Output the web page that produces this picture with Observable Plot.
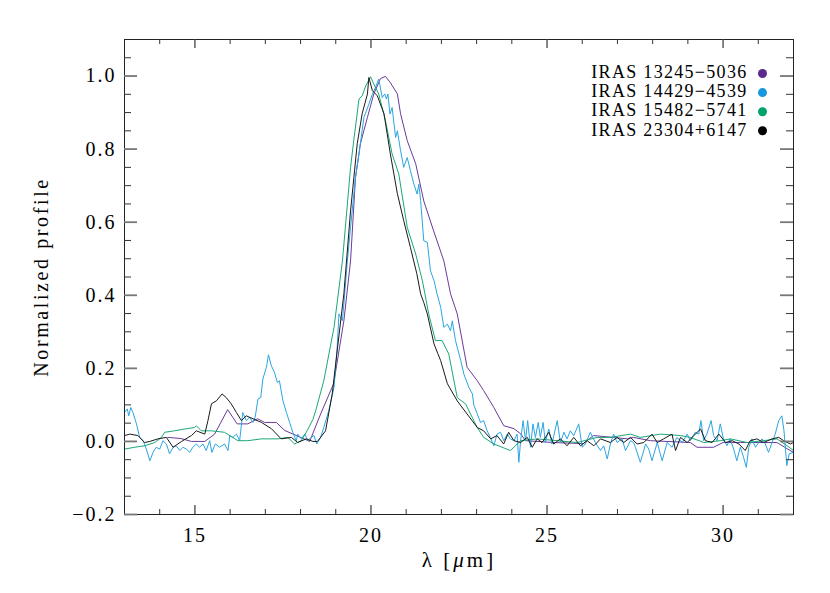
<!DOCTYPE html>
<html>
<head>
<meta charset="utf-8">
<script src="https://cdn.jsdelivr.net/npm/d3@7"></script>
<script src="https://cdn.jsdelivr.net/npm/@observablehq/plot@0.6"></script>
<style>
  html, body { margin: 0; padding: 0; background: #fff; }
  #chart { width: 830px; height: 593px; }
</style>
</head>
<body>
<div id="chart"></div>
<script>
// ---- Data ----
const seriesNames = ["IRAS 13245\u22125036", "IRAS 14429\u22124539", "IRAS 15482\u22125741", "IRAS 23304+6147"];
const seriesColors = ["#5b2a8c", "#1598dc", "#00a36c", "#000000"];
const lineColors = ["#6a3a9a", "#2aa5e2", "#1aa878", "#1a1a1a"];

const lam13245 = [14.23,14.6,14.9,15.28,15.56,15.93,16.2,16.5,16.78,16.98,17.31,17.55,18.1,18.26,18.4,18.57,18.94,19.23,19.42,19.56,19.7,19.9,20.08,20.27,20.41,20.55,20.75,20.84,21.03,21.27,21.5,21.78,22.07,22.26,22.45,22.73,23.02,23.2,23.49,23.77,24.06,24.25,24.39,25.18,26.03,26.32,26.88,27.28,27.45,27.94,29.07,29.26,29.73,30.0,30.49,31.14,31.53,31.82,32.0];
const val13245 = [0.011,0.008,0.0,0.0,0.02,0.087,0.048,0.048,0.062,0.052,0.052,0.03,0.007,0.0,0.034,0.075,0.158,0.33,0.494,0.722,0.815,0.887,0.951,0.993,0.999,0.982,0.951,0.897,0.823,0.76,0.658,0.576,0.494,0.404,0.349,0.203,0.166,0.139,0.093,0.043,0.035,0.021,0.002,-0.003,-0.006,0.016,0.011,0.007,0.011,0.002,-0.003,-0.016,-0.016,-0.003,-0.003,-0.003,-0.003,-0.02,-0.03];

const lam14429 = [13.0,13.08,13.12,13.18,13.24,13.34,13.43,13.53,13.62,13.72,13.81,13.9,14.0,14.09,14.19,14.28,14.38,14.47,14.57,14.66,14.76,14.85,14.94,15.04,15.13,15.23,15.32,15.42,15.48,15.58,15.7,15.84,15.94,15.99,16.08,16.18,16.27,16.36,16.46,16.55,16.65,16.71,16.79,16.87,16.93,17.03,17.09,17.17,17.26,17.34,17.4,17.5,17.6,17.69,17.78,17.88,17.92,18.02,18.12,18.21,18.3,18.38,18.46,18.57,18.66,18.8,18.95,19.04,19.09,19.19,19.33,19.42,19.56,19.66,19.8,19.94,20.04,20.13,20.22,20.32,20.39,20.44,20.48,20.54,20.6,20.7,20.75,20.84,20.93,21.03,21.12,21.22,21.31,21.36,21.41,21.5,21.6,21.69,21.79,21.88,21.98,22.07,22.17,22.26,22.31,22.4,22.55,22.64,22.78,22.88,22.92,23.02,23.11,23.2,23.3,23.39,23.49,23.58,23.68,23.77,23.87,23.96,24.06,24.15,24.2,24.25,24.32,24.39,24.45,24.53,24.6,24.67,24.75,24.81,24.89,24.95,25.05,25.14,25.29,25.38,25.48,25.57,25.66,25.76,25.9,26.0,26.09,26.23,26.37,26.52,26.61,26.71,26.8,26.89,26.99,27.13,27.23,27.37,27.46,27.51,27.65,27.8,27.89,27.98,28.13,28.27,28.41,28.55,28.69,28.84,28.98,29.07,29.21,29.31,29.37,29.45,29.54,29.66,29.73,29.83,29.92,30.01,30.11,30.2,30.3,30.39,30.49,30.58,30.66,30.73,30.82,30.92,31.01,31.11,31.2,31.29,31.39,31.48,31.58,31.67,31.73,31.81,31.88,32.0];
const val14429 = [0.079,0.089,0.07,0.093,0.079,0.048,0.011,0.002,-0.021,-0.053,-0.03,-0.016,-0.021,0.002,-0.007,-0.034,-0.016,-0.012,-0.025,-0.016,-0.021,-0.03,-0.016,-0.007,-0.016,-0.007,-0.025,0.002,-0.03,-0.007,-0.016,-0.007,-0.025,0.016,0.011,0.02,0.002,0.079,0.057,0.066,0.052,0.066,0.116,0.12,0.171,0.203,0.237,0.207,0.189,0.161,0.166,0.111,0.079,0.052,0.025,0.002,0.02,0.007,0.02,0.002,0.011,0.016,-0.007,0.011,0.038,0.084,0.148,0.257,0.349,0.33,0.494,0.586,0.722,0.787,0.887,0.923,0.951,0.969,0.992,0.941,0.951,0.937,0.951,0.896,0.914,0.832,0.85,0.796,0.75,0.777,0.741,0.704,0.677,0.704,0.659,0.549,0.545,0.467,0.44,0.403,0.367,0.312,0.321,0.303,0.33,0.276,0.221,0.184,0.148,0.13,0.1,0.075,0.052,0.057,0.029,0.011,-0.012,0.02,0.025,0.002,0.02,0.007,0.002,0.02,-0.057,0.002,0.057,0.002,0.057,-0.016,0.048,0.011,0.052,0.011,0.052,-0.003,0.034,-0.007,0.057,-0.003,0.025,0.007,0.029,0.016,0.048,-0.016,-0.007,0.025,-0.003,-0.025,-0.012,-0.048,-0.007,0.02,-0.003,0.007,-0.025,0.002,-0.003,-0.016,-0.057,-0.007,-0.021,-0.053,-0.003,-0.053,-0.003,-0.016,0.011,-0.003,0.02,0.002,0.025,0.02,0.057,0.002,0.02,0.057,0.016,0.002,0.048,0.007,-0.012,0.007,-0.021,-0.053,-0.016,-0.043,-0.071,-0.016,0.007,-0.016,-0.003,0.007,-0.007,-0.03,-0.003,0.02,0.057,0.07,0.029,-0.066,-0.034,-0.03];

const lam15482 = [13.0,13.29,13.57,13.86,14.05,14.14,14.42,14.71,14.99,15.04,15.18,15.47,15.84,16.22,16.5,16.89,17.36,17.64,17.83,18.02,18.19,18.35,18.43,18.66,18.95,19.19,19.42,19.51,19.66,19.75,19.85,19.99,20.08,20.22,20.41,20.6,20.79,21.03,21.27,21.46,21.64,21.83,22.02,22.21,22.45,22.69,22.92,23.02,23.2,23.49,23.96,24.25,24.72,25.29,25.86,26.42,26.8,27.37,27.65,28.22,28.79,29.07,29.45,29.92,30.21,30.68,31.15,31.53,31.82,32.0];
const val15482 = [-0.021,-0.016,-0.012,-0.003,0.011,0.025,0.029,0.034,0.038,0.043,0.029,0.029,0.025,0.002,0.002,0.007,0.007,0.011,-0.007,0.002,0.03,0.06,0.084,0.166,0.312,0.494,0.75,0.823,0.937,0.946,0.973,0.998,0.978,0.951,0.878,0.787,0.732,0.586,0.513,0.44,0.349,0.276,0.276,0.239,0.12,0.102,0.057,0.038,0.011,-0.007,-0.025,0.002,0.007,0.002,-0.003,0.011,0.011,0.02,0.011,0.02,0.016,0.011,-0.003,0.002,0.007,-0.003,0.002,0.007,-0.012,-0.025];

const lam23304 = [13.0,13.15,13.38,13.57,13.72,13.95,14.19,14.38,14.62,14.9,15.04,15.28,15.37,15.47,15.61,15.77,15.89,16.03,16.18,16.32,16.46,16.65,16.89,17.17,17.45,17.74,17.92,18.16,18.35,18.48,18.71,18.9,19.04,19.23,19.42,19.61,19.75,19.9,19.94,20.04,20.18,20.37,20.55,20.75,20.93,21.12,21.3,21.41,21.5,21.6,21.79,21.9,21.98,22.17,22.45,22.73,23.02,23.2,23.4,23.58,23.77,23.91,24.06,24.25,24.44,24.58,24.72,24.86,25.05,25.19,25.38,25.57,25.76,25.95,26.14,26.33,26.52,26.8,26.99,27.18,27.37,27.56,27.75,27.98,28.13,28.31,28.55,28.65,28.79,28.98,29.17,29.36,29.5,29.69,29.88,30.07,30.26,30.45,30.63,30.77,30.96,31.15,31.39,31.58,31.72,31.91,32.0];
const val23304 = [0.016,0.02,0.016,-0.003,0.0,0.007,0.011,-0.016,0.0,0.016,0.029,0.02,0.057,0.103,0.111,0.13,0.12,0.103,0.079,0.057,0.07,0.062,0.052,0.035,0.007,0.011,-0.003,0.007,0.0,0.0,0.029,0.13,0.248,0.404,0.631,0.815,0.897,0.951,0.996,0.96,0.946,0.897,0.787,0.678,0.604,0.531,0.46,0.404,0.38,0.349,0.267,0.24,0.221,0.158,0.111,0.075,0.038,0.029,0.007,0.016,-0.007,0.025,0.002,-0.003,0.011,-0.016,0.007,-0.003,0.025,-0.007,0.007,-0.012,0.011,-0.012,0.002,-0.012,0.007,-0.003,0.011,-0.003,0.011,-0.007,-0.003,0.02,-0.003,0.007,0.02,-0.025,0.011,-0.003,0.016,0.034,0.002,-0.003,0.02,-0.003,0.002,-0.007,-0.025,0.002,0.007,-0.003,0.007,0.011,0.002,-0.007,-0.003];

const xMajor = [15, 20, 25, 30];
const xMinor = [14, 16, 17, 18, 19, 21, 22, 23, 24, 26, 27, 28, 29, 31];
const yMajor = [-0.2, 0.0, 0.2, 0.4, 0.6, 0.8, 1.0];
const yMinor = [-0.15, -0.1, -0.05, 0.05, 0.1, 0.15, 0.25, 0.3, 0.35, 0.45, 0.5, 0.55, 0.65, 0.7, 0.75, 0.85, 0.9, 0.95, 1.05];
const yLabel = "Normalized profile";
const xLabel = "\u03bb [\u03bcm]";

// ---- Build tables ----
const lamArrays = [lam13245, lam14429, lam15482, lam23304];
const valArrays = [val13245, val14429, val15482, val23304];
const tables = lamArrays.map((lams, s) => lams.map((l, i) => ({lam: l, val: valArrays[s][i], name: seriesNames[s]})));

// ---- Layout ----
const W = 830, H = 593;
const mTop = 39, mBottom = 79, mLeft = 124, mRight = 37;
const plotH = H - mTop - mBottom;
const plotW = W - mLeft - mRight;
const font = "'Liberation Serif', 'DejaVu Serif', serif";

const tickMarks = [
  Plot.tickX(xMajor, {x: d => d, insetTop: plotH - 9, stroke: "#444", strokeWidth: 1.3}),
  Plot.tickX(xMajor, {x: d => d, insetBottom: plotH - 9, stroke: "#444", strokeWidth: 1.3}),
  Plot.tickX(xMinor, {x: d => d, insetTop: plotH - 5, stroke: "#333"}),
  Plot.tickX(xMinor, {x: d => d, insetBottom: plotH - 5, stroke: "#333"}),
  Plot.tickY(yMajor, {y: d => d, insetRight: plotW - 13, stroke: "#777", strokeWidth: 1.8}),
  Plot.tickY(yMajor, {y: d => d, insetLeft: plotW - 13, stroke: "#777", strokeWidth: 1.8}),
  Plot.tickY(yMinor, {y: d => d, insetRight: plotW - 7, stroke: "#333"}),
  Plot.tickY(yMinor, {y: d => d, insetLeft: plotW - 7, stroke: "#333"})
];

const legendMarks = [];
seriesNames.forEach((n, i) => {
  legendMarks.push(Plot.text([n], {text: d => d, frameAnchor: "top-right", dx: -46, dy: 33 + i * 19.1, textAnchor: "end", lineAnchor: "middle", fontSize: 18, fill: "#000"}));
  legendMarks.push(Plot.dot([seriesColors[i]], {frameAnchor: "top-right", dx: -31, dy: 34 + i * 19.1, r: 4.5, fill: d => d, stroke: "none"}));
});

const chart = Plot.plot({
  width: W,
  height: H,
  marginTop: mTop,
  marginBottom: mBottom,
  marginLeft: mLeft,
  marginRight: mRight,
  style: {fontFamily: font, background: "#fff", letterSpacing: "2px"},
  x: {domain: [13, 32]},
  y: {domain: [-0.2, 1.1]},
  marks: [
    ...tables.map((t, s) => Plot.line(t, {x: "lam", y: "val", stroke: lineColors[s], strokeWidth: 1})),
    Plot.frame({stroke: "#222", strokeWidth: 1}),
    ...tickMarks,
    Plot.axisX({ticks: xMajor, tickSize: 0, tickPadding: 13, fontSize: 20, tickFormat: d => String(d), label: null}),
    Plot.axisY({ticks: yMajor, tickSize: 0, tickPadding: 8, fontSize: 20, tickFormat: d3.format(".1f"), label: null}),
    Plot.text([yLabel], {text: d => d, frameAnchor: "left", dx: -83, rotate: -90, textAnchor: "middle", fontSize: 20, fill: "#000"}),
    Plot.text([xLabel], {text: d => d, frameAnchor: "bottom", dy: 52, textAnchor: "middle", fontSize: 21, fill: "#000"}),
    ...legendMarks
  ]
});

document.getElementById("chart").appendChild(chart);

// post-process text styling
d3.select(chart).selectAll("text").each(function() {
  const c = this.textContent;
  const t = d3.select(this);
  if (c === xLabel) {
    t.text(null);
    t.append("tspan").text("\u03bb [");
    t.append("tspan").attr("font-style", "italic").text("\u03bc");
    t.append("tspan").text("m]");
    t.style("letter-spacing", "3px");
  } else if (c === yLabel) {
    t.style("letter-spacing", "2.6px");
  } else if (seriesNames.includes(c)) {
    t.style("letter-spacing", "1.3px");
  }
});
d3.select(chart).selectAll("text").attr("fill", "#000");
</script>
</body>
</html>
